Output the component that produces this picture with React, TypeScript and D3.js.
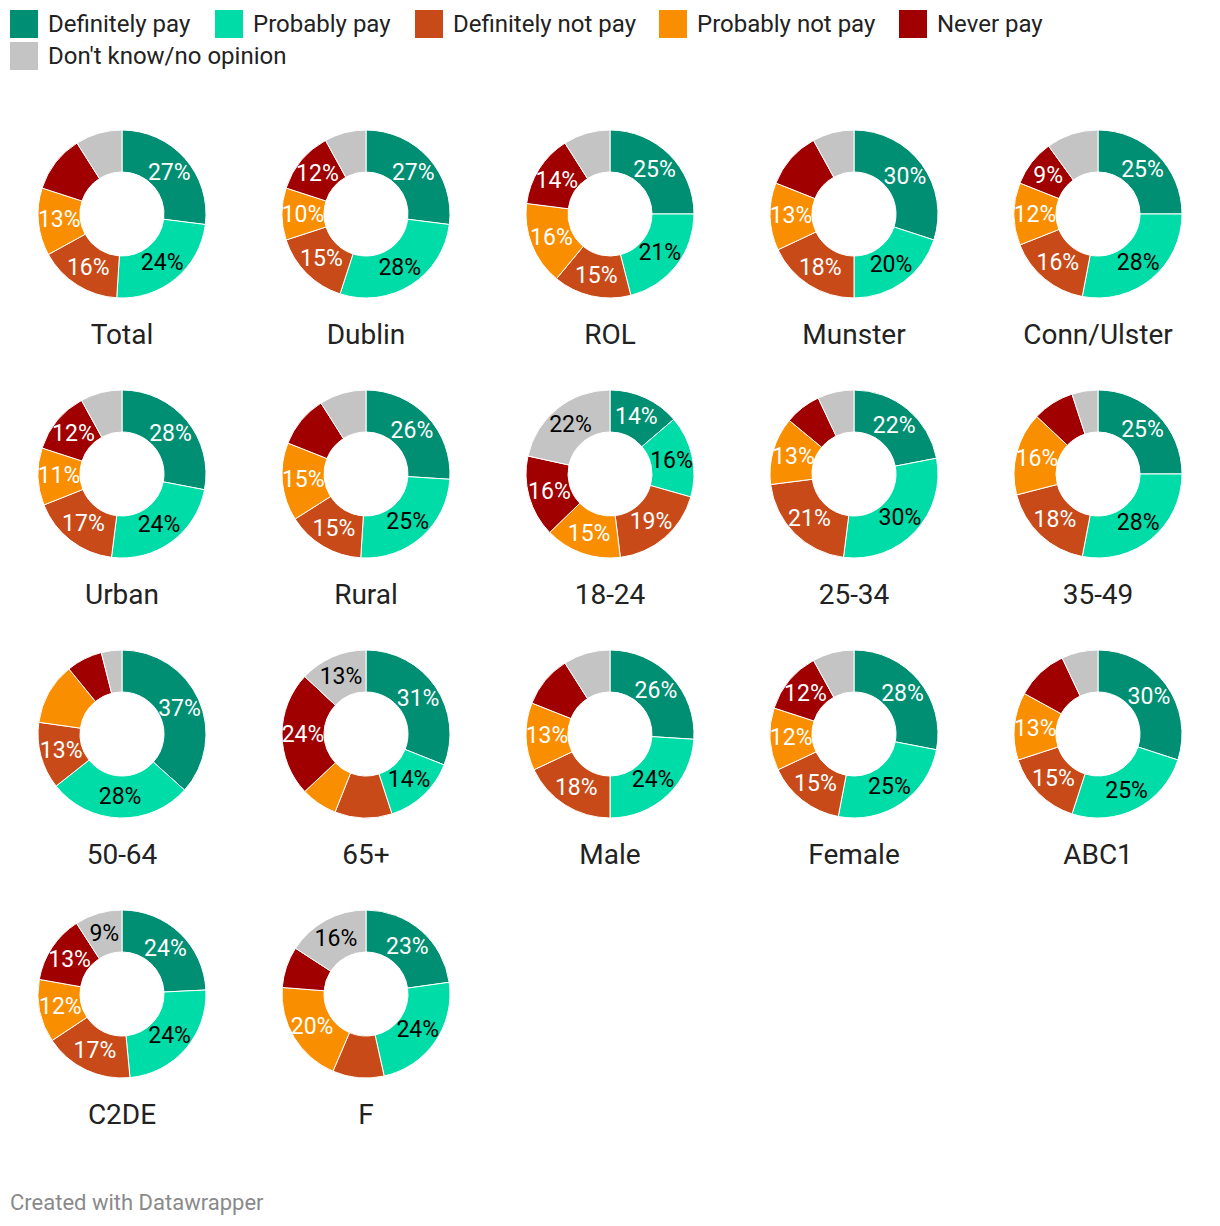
import React from "react";
import * as d3 from "d3";

const categories = ["Total","Dublin","ROL","Munster","Conn/Ulster","Urban","Rural","18-24","25-34","35-49","50-64","65+","Male","Female","ABC1","C2DE","F"];
const seriesNames = ["Definitely pay","Probably pay","Definitely not pay","Probably not pay","Never pay","Don't know/no opinion"];
const seriesColors = ["#008f72","#00dca8","#c94a19","#f98e00","#a00000","#c4c4c4"];
const labelColors = ["#ffffff","#000000","#ffffff","#ffffff","#ffffff","#000000"];

const definitelyPay = [27,27,25,30,25,28,26,14,22,25,37,31,26,28,30,24,23];
const probablyPay   = [24,28,21,20,28,24,25,16,30,28,28,14,24,25,25,24,24];
const definitelyNotPay = [16,15,15,18,16,17,15,19,21,18,13,11,18,15,15,17,10];
const probablyNotPay   = [13,10,16,13,12,11,15,15,13,16,12,7,13,12,13,12,20];
const neverPay = [11,12,14,11,9,12,10,16,7,8,7,24,10,12,10,13,8];
const dontKnow = [9,8,9,8,10,8,9,22,7,5,4,13,9,8,7,9,16];

// labels not shown in the reference: "category|seriesIndex"
const hiddenLabels = [
  "Total|4","Total|5","Dublin|5","ROL|5","Munster|4","Munster|5","Conn/Ulster|5",
  "Urban|5","Rural|4","Rural|5","25-34|4","25-34|5","35-49|4","35-49|5",
  "50-64|3","50-64|4","50-64|5","65+|2","65+|3","Male|4","Male|5","Female|5",
  "ABC1|4","ABC1|5","F|2","F|4"
];

const allSeries = [definitelyPay, probablyPay, definitelyNotPay, probablyNotPay, neverPay, dontKnow];

const W = 1220, H = 1226;
const FONT = "Roboto, 'Noto Sans', sans-serif";

export default function App() {
  const cols = 5;
  const colX = d3.scalePoint<number>().domain(d3.range(cols)).range([122, 1098]);
  const rowY = (r: number) => 214 + r * 260;
  const outerR = 84, innerR = 42;
  const arc = d3.arc<d3.PieArcDatum<number>>().innerRadius(innerR).outerRadius(outerR);
  const pie = d3.pie<number>().sort(null).value((d) => d);

  const legendRow1 = [
    { i: 0, x: 10 }, { i: 1, x: 215 }, { i: 2, x: 415 }, { i: 3, x: 659 }, { i: 4, x: 899 },
  ];

  return (
    <svg width={W} height={H} style={{ position: "absolute", left: 0, top: 0, background: "#fff" }} fontFamily={FONT}>
      {legendRow1.map((l) => (
        <g key={l.i}>
          <rect x={l.x} y={10} width={28} height={28} fill={seriesColors[l.i]} />
          <text x={l.x + 38} y={32} fontSize={24} fill="#222">{seriesNames[l.i]}</text>
        </g>
      ))}
      <g>
        <rect x={10} y={42} width={28} height={28} fill={seriesColors[5]} />
        <text x={48} y={64} fontSize={24} fill="#222">{seriesNames[5]}</text>
      </g>
      {categories.map((cat, ci) => {
        const cx = colX(ci % cols) as number;
        const cy = rowY(Math.floor(ci / cols));
        const vals = allSeries.map((s) => s[ci]);
        const arcs = pie(vals);
        return (
          <g key={cat} transform={`translate(${cx},${cy})`}>
            {arcs.map((a, si) => (
              <path key={si} d={arc(a) as string} fill={seriesColors[si]} stroke="#fff" strokeWidth={1} />
            ))}
            {arcs.map((a, si) => {
              if (hiddenLabels.includes(`${cat}|${si}`)) return null;
              const [lx, ly] = arc.centroid(a);
              return (
                <text key={"t" + si} x={lx} y={ly} textAnchor="middle" dominantBaseline="central"
                  fontSize={23} fill={labelColors[si]}>{`${vals[si]}%`}</text>
              );
            })}
            <text x={0} y={130} textAnchor="middle" fontSize={28} fill="#222">{cat}</text>
          </g>
        );
      })}
      <text x={10} y={1210} fontSize={22} fill="#8a8a8a">Created with Datawrapper</text>
    </svg>
  );
}
